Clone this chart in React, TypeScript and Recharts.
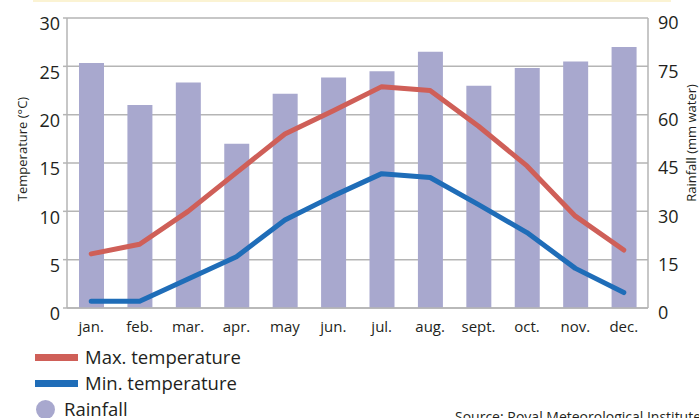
import { Bar, CartesianGrid, ComposedChart, Line, XAxis, YAxis } from "recharts";

const months = ["jan.", "feb.", "mar.", "apr.", "may", "jun.", "jul.", "aug.", "sept.", "oct.", "nov.", "dec."];
const rainfall = [76, 63, 70, 51, 66.5, 71.5, 73.5, 79.5, 69, 74.5, 76.5, 81];
const maxTemp = [5.6, 6.6, 10.0, 14.0, 18.0, 20.4, 22.9, 22.5, 18.8, 14.7, 9.5, 6.0];
const minTemp = [0.7, 0.7, 3.0, 5.3, 9.1, 11.6, 13.9, 13.5, 10.7, 7.8, 4.1, 1.6];
const tempTicks = [0, 5, 10, 15, 20, 25, 30];
const rainTicks = [0, 15, 30, 45, 60, 75, 90];
const boundaryTicks = [0, 1, 2, 3, 4, 5, 6, 7, 8, 9, 10, 11, 12];

const RED = "#cf5f58";
const BLUE = "#1f6db8";
const BAR = "#a8a8ce";
const GRID = "#b5b5b5";
const TEXT = "#231f20";
const FONT = "'Open Sans', sans-serif";

const data = months.map((month, i) => ({
  month,
  rainfall: rainfall[i],
  maxTemp: maxTemp[i],
  minTemp: minTemp[i],
}));

function LegendRow({ swatch, label, top }: { swatch: React.ReactNode; label: string; top: number }) {
  return (
    <div
      style={{
        position: "absolute",
        left: 0,
        top,
        height: 24,
        display: "flex",
        alignItems: "center",
        whiteSpace: "nowrap",
      }}
    >
      {swatch}
      <span style={{ fontSize: 18.5, color: TEXT, lineHeight: "24px" }}>{label}</span>
    </div>
  );
}

export default function App() {
  return (
    <div
      style={{
        position: "fixed",
        left: 0,
        top: 0,
        width: 699,
        height: 418,
        overflow: "hidden",
        background: "#fff",
        fontFamily: FONT,
      }}
    >
      {/* pale rule along the top edge */}
      <div style={{ position: "absolute", left: 33, top: 0, width: 638, height: 2, background: "#fbf3d3" }} />

      <ComposedChart width={699} height={418} data={data} margin={{ top: 18, right: 0, left: 0, bottom: 80 }}>
        {/* category boundary ticks pointing into the plot */}
        <XAxis
          xAxisId="b"
          type="number"
          domain={[0, 12]}
          ticks={boundaryTicks}
          mirror
          height={0}
          tick={false}
          axisLine={false}
          tickSize={7}
          tickLine={{ stroke: GRID, strokeWidth: 1.5 }}
        />
        <XAxis
          xAxisId="m"
          dataKey="month"
          interval={0}
          height={30}
          tickLine={false}
          tickMargin={7}
          axisLine={{ stroke: GRID, strokeWidth: 1.5 }}
          tick={{ fontSize: 15, fill: TEXT, fontFamily: FONT }}
        />
        <YAxis
          yAxisId="t"
          domain={[0, 30]}
          ticks={tempTicks}
          width={67}
          tickSize={4}
          tickMargin={3}
          tickLine={{ stroke: GRID, strokeWidth: 1.5 }}
          axisLine={{ stroke: GRID, strokeWidth: 1.5 }}
          tick={{ fontSize: 18, fill: TEXT, fontFamily: FONT, dy: 6 }}
          label={{
            content: ({ viewBox }: any) => {
              const cx = viewBox.x + 22;
              const cy = viewBox.y + viewBox.height / 2 - 14;
              return (
                <text
                  x={cx}
                  y={cy}
                  transform={`rotate(-90 ${cx} ${cy})`}
                  textAnchor="middle"
                  dominantBaseline="central"
                  fontSize={13}
                  fill={TEXT}
                  fontFamily={FONT}
                >
                  Temperature (°C)
                </text>
              );
            },
          }}
        />
        <YAxis
          yAxisId="r"
          orientation="right"
          domain={[0, 90]}
          ticks={rainTicks}
          width={51}
          tickLine={false}
          tickMargin={4}
          axisLine={{ stroke: GRID, strokeWidth: 1.5 }}
          tick={{ fontSize: 18, fill: TEXT, fontFamily: FONT, dy: 5 }}
          label={{
            content: ({ viewBox }: any) => {
              const cx = viewBox.x + 43;
              const cy = viewBox.y + viewBox.height / 2 - 20;
              return (
                <text
                  x={cx}
                  y={cy}
                  transform={`rotate(-90 ${cx} ${cy})`}
                  textAnchor="middle"
                  dominantBaseline="central"
                  fontSize={13}
                  fill={TEXT}
                  fontFamily={FONT}
                >
                  Rainfall (mm water)
                </text>
              );
            },
          }}
        />
        <CartesianGrid xAxisId="m" yAxisId="t" vertical={false} stroke={GRID} strokeWidth={1.5} />
        <Bar
          xAxisId="m"
          yAxisId="r"
          dataKey="rainfall"
          fill={BAR}
          barSize={25}
          isAnimationActive={false}
        />
        <Line
          xAxisId="m"
          yAxisId="t"
          type="linear"
          dataKey="maxTemp"
          stroke={RED}
          strokeWidth={5}
          strokeLinecap="round"
          strokeLinejoin="round"
          dot={false}
          activeDot={false}
          isAnimationActive={false}
        />
        <Line
          xAxisId="m"
          yAxisId="t"
          type="linear"
          dataKey="minTemp"
          stroke={BLUE}
          strokeWidth={5}
          strokeLinecap="round"
          strokeLinejoin="round"
          dot={false}
          activeDot={false}
          isAnimationActive={false}
        />
      </ComposedChart>

      <div style={{ position: "absolute", left: 35, top: 0, width: 300 }}>
        <LegendRow
          top={345}
          label="Max. temperature"
          swatch={<span style={{ display: "inline-block", width: 43, height: 7, background: RED, marginRight: 7 }} />}
        />
        <LegendRow
          top={371}
          label="Min. temperature"
          swatch={<span style={{ display: "inline-block", width: 43, height: 7, background: BLUE, marginRight: 7 }} />}
        />
        <LegendRow
          top={397}
          label="Rainfall"
          swatch={
            <span
              style={{
                display: "inline-block",
                width: 19,
                height: 19,
                borderRadius: "50%",
                background: BAR,
                marginLeft: 1,
                marginRight: 9,
              }}
            />
          }
        />
      </div>

      <div
        style={{
          position: "absolute",
          left: 455,
          top: 409,
          fontSize: 14,
          color: TEXT,
          lineHeight: "16px",
          whiteSpace: "nowrap",
        }}
      >
        Source: Royal Meteorological Institute
      </div>
    </div>
  );
}
